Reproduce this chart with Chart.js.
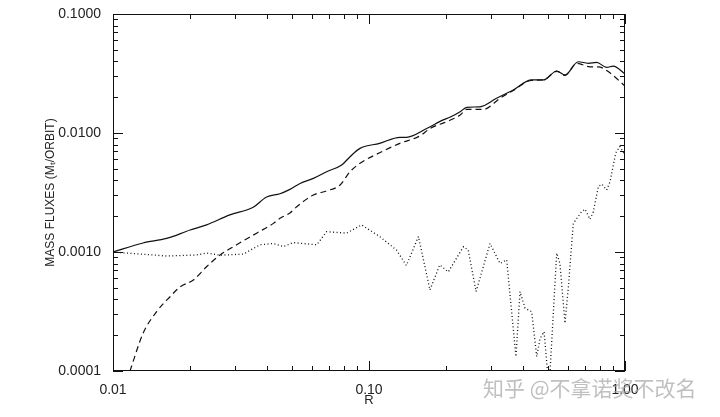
<!DOCTYPE html>
<html>
<head>
<meta charset="utf-8">
<script src="https://cdn.jsdelivr.net/npm/chart.js@4"></script>
<style>
  html, body { margin: 0; padding: 0; background: #fff; }
  #wrap { width: 720px; height: 417px; }
</style>
</head>
<body>
<div id="wrap"><canvas id="fluxChart" width="720" height="417"></canvas></div>
<script>
// radius values (R) and mass fluxes
const solidR = [0.01, 0.0131, 0.0162, 0.020, 0.0232, 0.0286, 0.0353, 0.0398, 0.0449, 0.0491, 0.0538, 0.0606, 0.0683, 0.0782, 0.0843, 0.0922, 0.110, 0.132, 0.140, 0.168, 0.195, 0.207, 0.227, 0.241, 0.271, 0.315, 0.366, 0.432, 0.480, 0.541, 0.583, 0.657, 0.719, 0.775, 0.848, 0.900, 1.0];
const solidFlux = [0.00100, 0.00119, 0.00130, 0.00153, 0.00169, 0.00205, 0.00238, 0.00290, 0.00309, 0.00336, 0.00377, 0.00416, 0.00473, 0.00538, 0.00632, 0.00743, 0.00818, 0.0092, 0.0092, 0.0109, 0.0129, 0.01355, 0.0151, 0.01644, 0.0166, 0.0196, 0.0230, 0.0279, 0.0279, 0.0332, 0.0307, 0.0397, 0.0385, 0.0392, 0.0356, 0.0365, 0.0313];

const dashedR = [0.01165, 0.0131, 0.0148, 0.0167, 0.0183, 0.0206, 0.0232, 0.0262, 0.0304, 0.0364, 0.0423, 0.0449, 0.0491, 0.0522, 0.0606, 0.0683, 0.0771, 0.0843, 0.0922, 0.110, 0.132, 0.158, 0.173, 0.201, 0.227, 0.241, 0.280, 0.325, 0.366, 0.432, 0.480, 0.541, 0.583, 0.648, 0.730, 0.787, 0.860, 1.0];
const dashedFlux = [0.0001, 0.000207, 0.000315, 0.000421, 0.00051, 0.000582, 0.000752, 0.000944, 0.00115, 0.00144, 0.00174, 0.00192, 0.00213, 0.0024, 0.00301, 0.00326, 0.00366, 0.00473, 0.00556, 0.00682, 0.00818, 0.00944, 0.0109, 0.01245, 0.01415, 0.0158, 0.0158, 0.0196, 0.0228, 0.0277, 0.0279, 0.0330, 0.0305, 0.0385, 0.0360, 0.0360, 0.0328, 0.0248];

const dottedR = [0.01, 0.0162, 0.0212, 0.0232, 0.0262, 0.0323, 0.0375, 0.0423, 0.0463, 0.0506, 0.0625, 0.0683, 0.0818, 0.0936, 0.110, 0.128, 0.140, 0.156, 0.173, 0.189, 0.204, 0.234, 0.244, 0.262, 0.297, 0.325, 0.345, 0.375, 0.389, 0.407, 0.432, 0.452, 0.466, 0.483, 0.505, 0.541, 0.557, 0.583, 0.601, 0.628, 0.677, 0.698, 0.730, 0.752, 0.787, 0.811, 0.848, 0.874, 0.920, 0.955, 1.0];
const dottedFlux = [0.00100, 0.000925, 0.000944, 0.00098, 0.00094, 0.00096, 0.00115, 0.00118, 0.00111, 0.00120, 0.00115, 0.00148, 0.00144, 0.00169, 0.00135, 0.00104, 0.00077, 0.00135, 0.00048, 0.00078, 0.00068, 0.00111, 0.00104, 0.000465, 0.00118, 0.00080, 0.00086, 0.000132, 0.000465, 0.000337, 0.000315, 0.000132, 0.000188, 0.000214, 0.00007, 0.00098, 0.00080, 0.000252, 0.00051, 0.00174, 0.00218, 0.00229, 0.00188, 0.00218, 0.00354, 0.00372, 0.00332, 0.00389, 0.0068, 0.0077, 0.0065];

const xTickLabels = ['0.01', '0.10', '1.00'];
const yTickLabels = ['0.0001', '0.0010', '0.0100', '0.1000'];

const xDecades = [0.01, 0.1, 1];
const yDecades = [0.0001, 0.001, 0.01, 0.1];

function toPoints(xs, ys) {
  return xs.map((x, i) => ({ x: x, y: ys[i] }));
}

function isDecade(v) {
  const l = Math.log10(v);
  return Math.abs(l - Math.round(l)) < 1e-9;
}

// inward major/minor ticks on all four sides, plus the frame
const frameTicks = {
  id: 'frameTicks',
  afterDatasetsDraw(chart) {
    const ctx = chart.ctx;
    const a = chart.chartArea;
    const xs = chart.scales.x;
    const ys = chart.scales.y;
    ctx.save();
    ctx.strokeStyle = '#111';
    ctx.lineWidth = 1;
    ctx.strokeRect(a.left + 0.5, a.top + 0.5, a.right - a.left - 1, a.bottom - a.top - 1);
    ctx.beginPath();
    xDecades.forEach(d => {
      for (let m = 1; m <= 9; m++) {
        const v = d * m;
        if (v > 1.0001) break;
        const px = Math.round(xs.getPixelForValue(v)) + 0.5;
        const len = m === 1 ? 10 : 5;
        ctx.moveTo(px, a.bottom); ctx.lineTo(px, a.bottom - len);
        ctx.moveTo(px, a.top); ctx.lineTo(px, a.top + len);
      }
    });
    yDecades.forEach(d => {
      for (let m = 1; m <= 9; m++) {
        const v = d * m;
        if (v > 0.10001) break;
        const py = Math.round(ys.getPixelForValue(v)) + 0.5;
        const len = m === 1 ? 10 : 5;
        ctx.moveTo(a.left, py); ctx.lineTo(a.left + len, py);
        ctx.moveTo(a.right, py); ctx.lineTo(a.right - len, py);
      }
    });
    ctx.stroke();
    ctx.restore();
  },
  afterDraw(chart) {
    // site watermark
    const ctx = chart.ctx;
    ctx.save();
    ctx.fillStyle = 'rgba(165,165,165,0.7)';
    ctx.font = '21px "Noto Sans CJK SC"';
    ctx.textBaseline = 'middle';
    ctx.fillText('知乎 @不拿诺奖不改名', 483, 388);
    ctx.restore();
  }
};

new Chart(document.getElementById('fluxChart'), {
  type: 'line',
  data: {
    datasets: [
      {
        data: toPoints(solidR, solidFlux),
        borderColor: '#111',
        borderWidth: 1.2,
        pointRadius: 0,
        cubicInterpolationMode: 'monotone'
      },
      {
        data: toPoints(dashedR, dashedFlux),
        borderColor: '#111',
        borderWidth: 1.2,
        borderDash: [6, 4],
        pointRadius: 0,
        cubicInterpolationMode: 'monotone'
      },
      {
        data: toPoints(dottedR, dottedFlux),
        borderColor: '#111',
        borderWidth: 1.3,
        borderDash: [1, 2.5],
        pointRadius: 0,
        tension: 0
      }
    ]
  },
  options: {
    responsive: false,
    animation: false,
    layout: { padding: { top: 14, right: 95, left: 0, bottom: 0 } },
    plugins: { legend: { display: false }, tooltip: { enabled: false } },
    scales: {
      x: {
        type: 'logarithmic',
        min: 0.01,
        max: 1,
        grid: { display: false },
        border: { display: false },
        ticks: {
          autoSkip: false,
          maxRotation: 0,
          padding: 3,
          color: '#222',
          font: { family: 'Liberation Sans', size: 14 },
          callback: function (v) {
            if (!isDecade(v)) return '';
            return xTickLabels[xDecades.findIndex(d => Math.abs(d - v) / d < 1e-6)];
          }
        },
        title: {
          display: true,
          text: 'R',
          color: '#222',
          font: { family: 'Liberation Sans', size: 13 },
          padding: { top: 0, bottom: 9 }
        },
        afterFit: s => { s.height = 46; }
      },
      y: {
        type: 'logarithmic',
        min: 0.0001,
        max: 0.1,
        grid: { display: false },
        border: { display: false },
        ticks: {
          autoSkip: false,
          padding: 4,
          color: '#222',
          font: { family: 'Liberation Sans', size: 14 },
          callback: function (v) {
            if (!isDecade(v)) return '';
            return yTickLabels[yDecades.findIndex(d => Math.abs(d - v) / d < 1e-6)];
          }
        },
        title: {
          display: true,
          text: 'MASS FLUXES (Mₜ/ORBIT)',
          color: '#222',
          font: { family: 'Liberation Sans', size: 12 },
          padding: { top: 43, bottom: 0 }
        },
        afterFit: s => { s.width = 113; }
      }
    }
  },
  plugins: [frameTicks]
});
</script>
</body>
</html>
